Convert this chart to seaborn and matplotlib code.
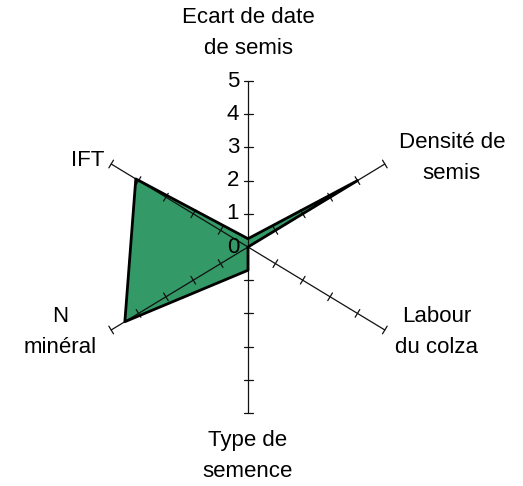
import numpy as np
import pandas as pd
import seaborn as sns
import matplotlib.pyplot as plt

# axes of the radar, clockwise from the top
categories = ["Ecart de date\nde semis", "Densité de\nsemis", "Labour\ndu colza",
              "Type de\nsemence", "N\nminéral", "IFT"]
values = [0.25, 4.0, 0.0, 0.7, 4.5, 4.1]
ticks = [0, 1, 2, 3, 4, 5]

sns.set_style("white")
plt.rcParams['font.family'] = ['Liberation Sans', 'DejaVu Sans']
plt.rcParams['text.color'] = 'black'

fig = plt.figure(figsize=(5.23, 4.86), dpi=100)
ax = fig.add_axes([0, 0, 1, 1])

# px per unit (plot area is a bit wider than tall in the original)
sx, sy = 31.6, 33.2
cx, cy = 248, 247
xlim = (-cx / sx, (523 - cx) / sx)
ylim = (-(486 - cy) / sy, cy / sy)

n = len(categories)
theta = np.arange(n) * 2 * np.pi / n
rmax = ticks[-1]

# axis spokes and tick marks
for t in theta:
    ax.plot([0, rmax * np.sin(t)], [0, rmax * np.cos(t)], color="#111111", lw=0.9, zorder=3)
    dx, dy = np.sin(t) * sx, np.cos(t) * sy
    L = np.hypot(dx, dy)
    px, py = -dy / L, dx / L
    h = 4.5
    for r in ticks[1:]:
        x0, y0 = r * np.sin(t), r * np.cos(t)
        ax.plot([x0 - px * h / sx, x0 + px * h / sx], [y0 - py * h / sy, y0 + py * h / sy],
                color="#111111", lw=0.9, zorder=3)

# data polygon
df = pd.DataFrame({"x": [v * np.sin(t) for v, t in zip(values, theta)],
                   "y": [v * np.cos(t) for v, t in zip(values, theta)]})
df = pd.concat([df, df.iloc[:1]], ignore_index=True)
ax.fill(df["x"], df["y"], color="#339966", zorder=2)
sns.lineplot(data=df, x="x", y="y", sort=False, estimator=None, color="black",
             lw=2, ax=ax, zorder=4)
ax.set_xlim(*xlim)
ax.set_ylim(*ylim)
ax.axis("off")

# radial tick labels on the top axis
for r in ticks:
    ax.annotate(str(r), (0, r), xytext=(-9, 0), textcoords="offset pixels",
                ha="right", va="center", fontsize=16, zorder=5)

# category labels
offsets = [(0, 48), (67, 6), (52, -2), (0, -43), (-51, -2), (-23, 4)]
for lab, t, off in zip(categories, theta, offsets):
    ax.annotate(lab, (rmax * np.sin(t), rmax * np.cos(t)), xytext=off,
                textcoords="offset pixels", ha="center", va="center",
                fontsize=16, linespacing=1.6)

fig.savefig("out.png", dpi=100)
